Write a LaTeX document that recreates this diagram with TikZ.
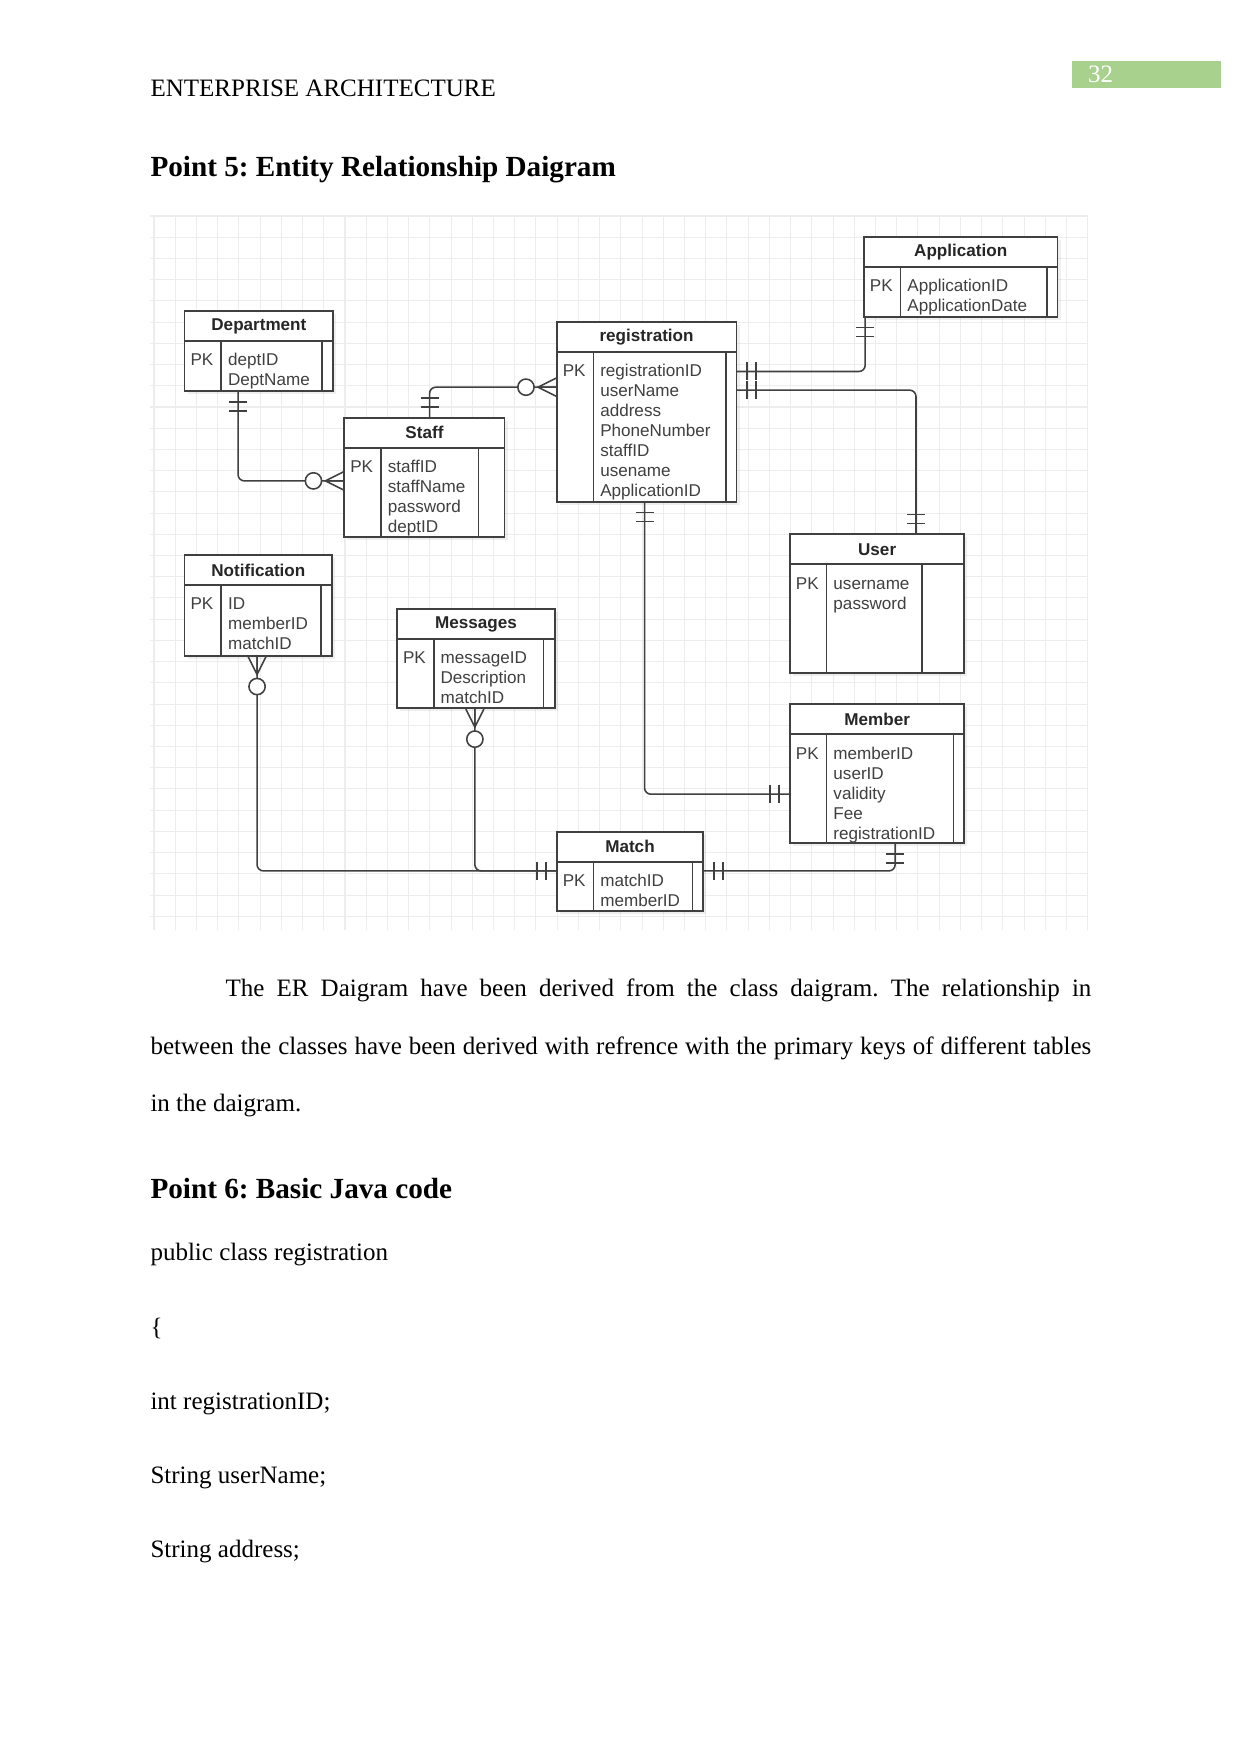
\documentclass[tikz,border=0pt]{standalone}
\usepackage{fontspec}
\setmainfont{Liberation Serif}
\newfontfamily\ersans{Liberation Sans}
\usetikzlibrary{calc,fit,shadows}
\definecolor{pagegreen}{RGB}{169,209,142}
\frenchspacing

\begin{document}
\begin{tikzpicture}[x=0.47968pt, y=-0.47968pt,
    body/.style={anchor=base west, inner sep=0pt, font=\fontsize{12}{14}\selectfont},
    head/.style={body, font=\fontsize{14}{16}\selectfont\bfseries},
    gridline/.style={draw=black!7, line width=0.5pt},
    ent/.style={draw=black!75, fill=white, line width=0.8pt, inner sep=0pt,
        drop shadow={shadow xshift=1.5pt, shadow yshift=-1.5pt, opacity=0.12}},
    enthead/.style={draw=black!75, line width=0.8pt, inner sep=0pt,
        label={[inner sep=0pt, text=black!85, font=\ersans\bfseries\fontsize{8.2}{9.6}\selectfont]center:#1}},
    attr/.style={anchor=north west, align=left, inner sep=0pt, text=black!75,
        font=\ersans\fontsize{8.2}{9.6}\selectfont},
    rel/.style={draw=black!75, line width=0.75pt},
    conn/.style={rel, rounded corners=3pt},
    mandone/.pic={\draw[rel] (10,-9) -- (10,9) (19,-9) -- (19,9);},
    zeromany/.pic={\draw[rel] (0,-9) -- (18,0) -- (0,9) (0,0) -- (18,0);
        \draw[rel, fill=white] (30,0) circle (3.9pt);}]
    \useasboundingbox (0,0) rectangle (1241,1754);
    \fill[white] (0,0) rectangle (1241,1754);

    % running head and page number
    \node[body] (runhead) at (150.1,96.7) {ENTERPRISE ARCHITECTURE};
    \fill[pagegreen] (1071.7,61) rectangle (1221,88.3);
    \node[body, text=white] (pgno) at (1087.7,82.3) {32};
    \node[head] (point5) at (150.1,176.7) {Point 5: Entity Relationship Daigram};

    % diagram grid
    \foreach \i in {0,...,44}
        \draw[gridline] (154+\i*21.22,216) -- (154+\i*21.22,930);
    \foreach \j in {0,...,33}
        \draw[gridline] (150,216+\j*21.22) -- (1088,216+\j*21.22);

    % entities
    \node[ent, fit={(184.6,311) (333.2,391)}] (dept) {};
    \node[enthead=Department, fit={(184.6,311) (333.2,341)}] (dept-h) {};
    \draw[rel] ($(dept-h.south west)+(37.5,0)$) -- ($(dept.south west)+(37.5,0)$)
        ($(dept-h.south east)+(-11.8,0)$) -- ($(dept.south east)+(-11.8,0)$);
    \node[attr] (dept-pk) at ($(dept-h.south west)+(6.4,9.5)$) {\strut PK};
    \node[attr] (dept-a) at ($(dept-h.south west)+(43.9,9.5)$) {\strut deptID\\DeptName};

    \node[ent, fit={(344.3,417.7) (504.6,537)}] (staff) {};
    \node[enthead=Staff, fit={(344.3,417.7) (504.6,447.7)}] (staff-h) {};
    \draw[rel] ($(staff-h.south west)+(37.5,0)$) -- ($(staff.south west)+(37.5,0)$)
        ($(staff-h.south east)+(-27.1,0)$) -- ($(staff.south east)+(-27.1,0)$);
    \node[attr] (staff-pk) at ($(staff-h.south west)+(6.4,9.5)$) {\strut PK};
    \node[attr] (staff-a) at ($(staff-h.south west)+(43.9,9.5)$) {\strut staffID\\staffName\\password\\deptID};

    \node[ent, fit={(556.8,321.7) (736.4,501.7)}] (reg) {};
    \node[enthead=registration, fit={(556.8,321.7) (736.4,351.7)}] (reg-h) {};
    \draw[rel] ($(reg-h.south west)+(37.5,0)$) -- ($(reg.south west)+(37.5,0)$)
        ($(reg-h.south east)+(-11.4,0)$) -- ($(reg.south east)+(-11.4,0)$);
    \node[attr] (reg-pk) at ($(reg-h.south west)+(6.4,9.5)$) {\strut PK};
    \node[attr] (reg-a) at ($(reg-h.south west)+(43.9,9.5)$)
        {\strut registrationID\\userName\\address\\PhoneNumber\\staffID\\usename\\ApplicationID};

    \node[ent, fit={(863.9,236.7) (1057.5,316.7)}] (app) {};
    \node[enthead=Application, fit={(863.9,236.7) (1057.5,266.7)}] (app-h) {};
    \draw[rel] ($(app-h.south west)+(37.5,0)$) -- ($(app.south west)+(37.5,0)$)
        ($(app-h.south east)+(-11.1,0)$) -- ($(app.south east)+(-11.1,0)$);
    \node[attr] (app-pk) at ($(app-h.south west)+(6.4,9.5)$) {\strut PK};
    \node[attr] (app-a) at ($(app-h.south west)+(43.9,9.5)$) {\strut ApplicationID\\ApplicationDate};

    \node[ent, fit={(184.6,555) (332.1,655.7)}] (notif) {};
    \node[enthead=Notification, fit={(184.6,555) (332.1,585)}] (notif-h) {};
    \draw[rel] ($(notif-h.south west)+(37.5,0)$) -- ($(notif.south west)+(37.5,0)$)
        ($(notif-h.south east)+(-11.7,0)$) -- ($(notif.south east)+(-11.7,0)$);
    \node[attr] (notif-pk) at ($(notif-h.south west)+(6.4,9.5)$) {\strut PK};
    \node[attr] (notif-a) at ($(notif-h.south west)+(43.9,9.5)$) {\strut ID\\memberID\\matchID};

    \node[ent, fit={(397.1,609) (555,708.3)}] (msg) {};
    \node[enthead=Messages, fit={(397.1,609) (555,639)}] (msg-h) {};
    \draw[rel] ($(msg-h.south west)+(37.5,0)$) -- ($(msg.south west)+(37.5,0)$)
        ($(msg-h.south east)+(-12.5,0)$) -- ($(msg.south east)+(-12.5,0)$);
    \node[attr] (msg-pk) at ($(msg-h.south west)+(6.4,9.5)$) {\strut PK};
    \node[attr] (msg-a) at ($(msg-h.south west)+(43.9,9.5)$) {\strut messageID\\Description\\matchID};

    \node[ent, fit={(556.8,831.7) (703.2,911)}] (match) {};
    \node[enthead=Match, fit={(556.8,831.7) (703.2,861.7)}] (match-h) {};
    \draw[rel] ($(match-h.south west)+(37.5,0)$) -- ($(match.south west)+(37.5,0)$)
        ($(match-h.south east)+(-11.4,0)$) -- ($(match.south east)+(-11.4,0)$);
    \node[attr] (match-pk) at ($(match-h.south west)+(6.4,9.5)$) {\strut PK};
    \node[attr] (match-a) at ($(match-h.south west)+(43.9,9.5)$) {\strut matchID\\memberID};

    \node[ent, fit={(790,534.3) (964.3,673.3)}] (user) {};
    \node[enthead=User, fit={(790,534.3) (964.3,564.3)}] (user-h) {};
    \draw[rel] ($(user-h.south west)+(37.5,0)$) -- ($(user.south west)+(37.5,0)$)
        ($(user-h.south east)+(-42.9,0)$) -- ($(user.south east)+(-42.9,0)$);
    \node[attr] (user-pk) at ($(user-h.south west)+(6.4,9.5)$) {\strut PK};
    \node[attr] (user-a) at ($(user-h.south west)+(43.9,9.5)$) {\strut username\\password};

    \node[ent, fit={(790,704.3) (964.3,843.3)}] (member) {};
    \node[enthead=Member, fit={(790,704.3) (964.3,734.3)}] (member-h) {};
    \draw[rel] ($(member-h.south west)+(37.5,0)$) -- ($(member.south west)+(37.5,0)$)
        ($(member-h.south east)+(-11.8,0)$) -- ($(member.south east)+(-11.8,0)$);
    \node[attr] (member-pk) at ($(member-h.south west)+(6.4,9.5)$) {\strut PK};
    \node[attr] (member-a) at ($(member-h.south west)+(43.9,9.5)$)
        {\strut memberID\\userID\\validity\\Fee\\registrationID};

    % connector ends
    \coordinate (d-s1) at ($(dept.south west)+(54.3,0)$);
    \coordinate (d-s2) at ($(staff.north west)+(0,64)$);
    \coordinate (s-r1) at ($(staff.north west)+(86.1,0)$);
    \coordinate (s-r2) at ($(reg.north west)+(0,66.3)$);
    \coordinate (r-a1) at ($(reg.north east)+(0,50.6)$);
    \coordinate (r-a2) at ($(app.south west)+(2.1,0)$);
    \coordinate (r-u1) at ($(reg.north east)+(0,69.3)$);
    \coordinate (r-u2) at ($(user.north west)+(126.8,0)$);
    \coordinate (r-m1) at ($(reg.south west)+(88.6,0)$);
    \coordinate (r-m2) at ($(member.north west)+(0,90.7)$);
    \coordinate (n-m1) at ($(notif.south west)+(73.3,0)$);
    \coordinate (m-m1) at ($(msg.south west)+(78.6,0)$);
    \coordinate (mt-in) at ($(match.north west)+(0,40)$);
    \coordinate (mt-out) at ($(match.north east)+(0,40)$);
    \coordinate (mb-in) at ($(member.south west)+(106,0)$);

    % relationships
    \draw[conn] (d-s1) |- (d-s2);
    \draw[conn] (s-r1) |- (s-r2);
    \draw[conn] (r-a1) -| (r-a2);
    \draw[conn] (r-u1) -| (r-u2);
    \draw[conn] (r-m1) |- (r-m2);
    \draw[conn] (n-m1) |- (mt-in);
    \draw[conn] (m-m1) |- (mt-in);
    \draw[conn] (mt-out) -| (mb-in);

    \pic[rotate=-90] at (d-s1) {mandone};
    \pic[rotate=180] at (d-s2) {zeromany};
    \pic[rotate=90] at (s-r1) {mandone};
    \pic[rotate=180] at (s-r2) {zeromany};
    \pic at (r-a1) {mandone};
    \pic[rotate=-90] at (r-a2) {mandone};
    \pic at (r-u1) {mandone};
    \pic[rotate=90] at (r-u2) {mandone};
    \pic[rotate=-90] at (r-m1) {mandone};
    \pic[rotate=180] at (r-m2) {mandone};
    \pic[rotate=-90] at (n-m1) {zeromany};
    \pic[rotate=-90] at (m-m1) {zeromany};
    \pic[rotate=180] at (mt-in) {mandone};
    \pic at (mt-out) {mandone};
    \pic[rotate=-90] at (mb-in) {mandone};

    % text below the diagram
    \node[body] (para1) at (225.2,996.7)
        {\makebox[415.3pt][s]{The ER Daigram have been derived from the class daigram. The relationship in}};
    \node[body] (para2) at (150.1,1054)
        {\makebox[451.3pt][s]{between the classes have been derived with refrence with the primary keys of different tables}};
    \node[body] (para3) at (150.1,1111.3) {in the daigram.};

    \node[head] (point6) at (150.1,1198.3) {Point 6: Basic Java code};
    \node[body] (code1) at (150.1,1260) {public class registration};
    \node[body] (code2) at (150.1,1335) {\{};
    \node[body] (code3) at (150.1,1409.3) {int registrationID;};
    \node[body] (code4) at (150.1,1483.3) {String userName;};
    \node[body] (code5) at (150.1,1557.3) {String address;};
\end{tikzpicture}
\end{document}
